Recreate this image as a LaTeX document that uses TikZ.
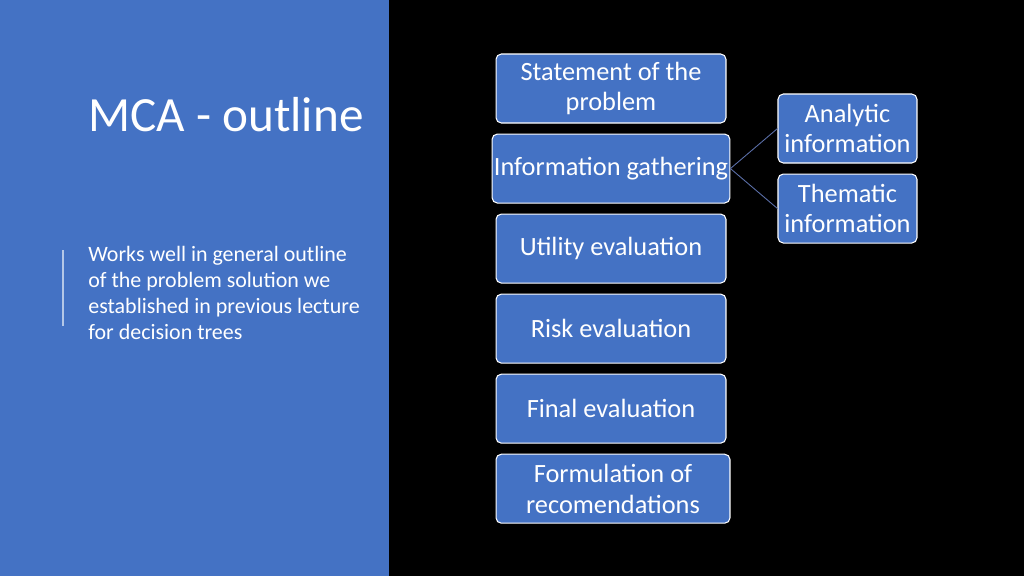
\documentclass[tikz,border=0pt]{standalone}
\usepackage{fontspec}
\setmainfont{Carlito}
\usetikzlibrary{positioning}
\definecolor{accentblue}{HTML}{4472C4}
\definecolor{linkblue}{HTML}{5B6FA8}
\begin{document}
\begin{tikzpicture}[
    x=0.02cm, y=-0.02cm,
    step box/.style={rectangle, rounded corners=3pt, draw=white, line width=0.6pt, fill=accentblue, text=white, minimum width=4.6cm, minimum height=1.38cm, align=center, font=\fontsize{15}{17.5}\selectfont, inner sep=1pt},
    side box/.style={step box, minimum width=2.78cm},
    link/.style={draw=linkblue, line width=0.5pt}
]
% Background
\fill[black] (0,0) rectangle (1024,576);
\fill[accentblue] (0,0) rectangle (389,576);
\useasboundingbox (0,0) rectangle (1024,576);

% Left panel
\node[anchor=west, text=white, font=\fontsize{28}{32}\selectfont, inner sep=0pt] (title) at (88,115) {MCA - outline};
\draw[white!60!accentblue, line width=0.8pt] (63,250) -- (63,326);
\node[anchor=north west, text=white, align=left, font=\fontsize{12.5}{14.8}\selectfont, inner sep=0pt] (note) at (88,246)
  {Works well in general outline\\of the problem solution we\\established in previous lecture\\for decision trees};

% Steps
\node[step box] (statement) at (611,88.5) {Statement of the\\problem};
\node[step box, below=0.2cm of statement] (gathering) {Information gathering};
\node[step box, below=0.2cm of gathering] (utility) {Utility evaluation};
\node[step box, below=0.2cm of utility] (risk) {Risk evaluation};
\node[step box, below=0.2cm of risk] (final) {Final evaluation};
\node[step box, below=0.2cm of final, minimum width=4.68cm, xshift=0.04cm] (recommend) {Formulation of\\recomendations};

% Information types
\node[side box] (analytic) at (847.5,128.5) {Analytic\\information};
\node[side box, below=0.2cm of analytic] (thematic) {Thematic\\information};

% Links
\draw[link] (gathering.east) -- (analytic.west);
\draw[link] (gathering.east) -- (thematic.west);
\end{tikzpicture}
\end{document}
